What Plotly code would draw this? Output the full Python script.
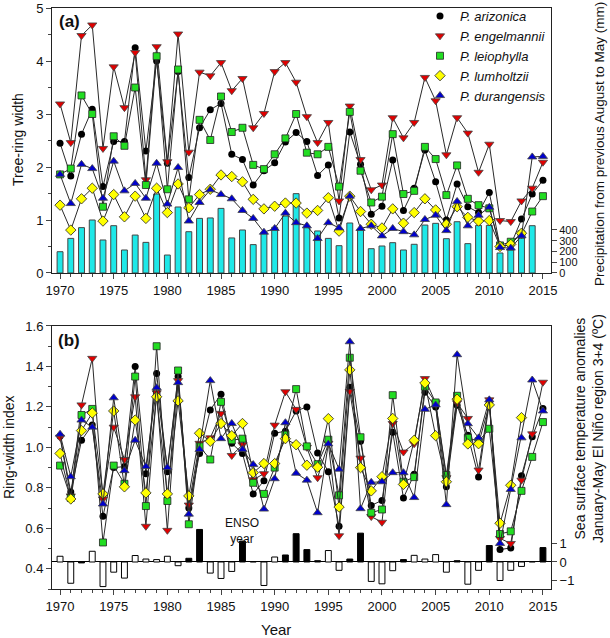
import plotly.graph_objects as go

years = list(range(1970, 2016))

# (a) tree-ring width
arizonica_w = [2.45, 1.83, 2.62, 3.09, 1.63, 2.48, 2.48, 4.25, 2.30, 4.00, 2.07, 3.80, 1.80, 2.74, 3.08, 3.20,
               2.24, 2.14, 1.66, 1.93, 2.08, 2.47, 2.65, 2.48, 1.84, 2.04, 1.04, 2.66, 2.05, 1.11, 1.26, 2.13,
               1.18, 1.60, 2.32, 1.72, 1.00, 1.68, 1.25, 1.14, 1.52, 0.50, 0.53, 1.02, 1.49, 1.75]
engelmannii_w = [3.19, 2.46, 4.48, 4.68, 2.35, 3.89, 3.12, 4.16, 1.76, 4.27, 2.10, 4.51, 2.28, 3.79, 3.72, 3.97,
                 3.44, 3.67, 2.74, 3.01, 3.80, 3.97, 3.60, 2.95, 2.46, 2.84, 1.36, 3.15, 2.14, 1.57, 1.66, 2.93,
                 2.55, 2.84, 3.69, 3.25, 2.23, 2.93, 2.64, 1.90, 2.43, 0.99, 0.97, 1.36, 1.60, 2.09]
leiophylla_w = [1.86, 1.97, 3.35, 3.00, 1.25, 2.58, 2.40, 3.50, 1.66, 4.09, 1.58, 3.84, 1.39, 2.89, 2.51, 3.33,
                2.66, 2.74, 2.04, 1.96, 2.24, 2.54, 3.00, 2.27, 2.24, 2.38, 1.63, 3.04, 1.93, 1.33, 1.44, 2.62,
                1.49, 1.55, 2.38, 2.15, 1.47, 2.03, 1.40, 1.28, 1.22, 0.52, 0.59, 0.73, 1.16, 1.45]
lumholtzii_w = [1.28, 0.81, 1.40, 1.60, 0.98, 1.48, 1.06, 1.45, 1.03, 1.60, 1.14, 1.68, 1.23, 1.48, 1.58, 1.85,
                1.82, 1.72, 1.39, 1.21, 1.26, 1.32, 1.32, 1.13, 1.18, 1.42, 0.79, 1.45, 1.16, 0.92, 0.85, 1.21,
                0.94, 1.14, 1.40, 1.19, 0.92, 1.25, 1.05, 0.98, 0.99, 0.50, 0.54, 0.75, None, None]
durangensis_w = [1.86, 1.31, 2.05, 1.97, 1.41, 2.11, 1.55, 1.69, 1.41, 2.07, 1.30, 1.99, 0.98, 1.33, 1.57, 1.48,
                 1.40, 1.18, 1.03, 0.77, 0.84, 1.13, 0.95, 0.89, 0.65, 0.95, 0.85, 1.45, 0.84, 0.89, 0.70, 0.84,
                 0.78, 0.72, 1.01, 1.09, 0.80, 1.35, 0.89, 1.09, 1.24, 0.48, 0.47, 0.70, 2.19, 2.20]
precip_years = list(range(1970, 2015))
precip = [198, 322, 422, 493, 307, 440, 214, 353, 285, 735, 167, 614, 384, 508, 512, 601, 326, 400, 264, 378,
          425, 530, 738, 425, 391, 322, 254, 465, 400, 226, 251, 282, 214, 267, 446, 462, 319, 477, 273, 443,
          443, 186, 214, 326, 440]

# (b) ring-width index
arizonica_i = [1.055, 0.78, 1.035, 1.11, 0.66, 0.90, 0.905, 1.40, 0.87, 1.365, 0.88, 1.35, 0.70, 0.97, 1.185,
               1.263, 1.02, 0.97, 0.77, 0.835, 1.07, 1.08, 1.18, 1.20, 0.972, 0.88, 0.61, 1.297, 1.03, 0.713,
               0.738, 1.075, 0.75, 0.867, 1.272, 1.20, 0.805, 1.208, 1.06, 0.853, 1.22, 0.495, 0.503, 0.86,
               1.052, 1.192]
engelmannii_i = [1.05, 0.76, 1.21, 1.44, 0.745, 1.10, 0.94, 1.25, 0.61, 1.27, 0.59, 1.33, 0.715, 1.02, 1.047,
                 1.168, 0.96, 1.013, 0.84, 0.87, 1.11, 1.275, 1.188, 1.0, 0.85, 1.02, 0.563, 1.277, 0.947, 0.658,
                 0.63, 1.118, 0.977, 1.018, 1.34, 1.22, 0.85, 1.22, 1.143, 0.888, 1.235, 0.55, 0.525, 0.838,
                 1.067, 1.322]
leiophylla_i = [0.91, 0.75, 1.16, 1.19, 0.53, 0.91, 0.82, 1.35, 0.71, 1.50, 0.735, 1.38, 0.62, 1.005, 0.94,
                1.225, 1.035, 1.043, 0.825, 0.77, 0.90, 1.063, 1.288, 1.005, 0.917, 1.038, 0.763, 1.443, 1.05,
                0.677, 0.693, 1.258, 0.83, 0.853, 1.30, 1.222, 0.863, 1.255, 1.047, 1.03, 1.092, 0.572, 0.585,
                0.785, 0.953, 1.125]
lumholtzii_i = [0.97, 0.745, 1.083, 1.17, 0.77, 1.18, 0.805, 1.135, 0.775, 1.25, 0.77, 1.23, 0.76, 1.07, 1.03,
                1.118, 1.058, 1.118, 0.875, 0.92, 0.92, 1.043, 1.013, 0.912, 0.902, 1.142, 0.705, 1.383, 0.90,
                0.785, 0.855, 1.143, 0.817, 1.035, 1.318, 1.058, 0.83, 1.238, 1.017, 1.018, 1.21, 0.625, 0.813,
                1.147, None, None]
durangensis_i = [1.065, 0.855, 1.135, 1.10, 0.72, 1.245, 0.885, 1.035, 0.905, 1.295, 0.90, 1.32, 0.67, 0.99,
                 1.33, 1.043, 1.118, 0.99, 0.915, 0.695, 0.845, 1.122, 0.872, 0.838, 0.677, 1.017, 0.892, 1.522,
                 0.697, 0.827, 0.83, 0.875, 0.875, 0.752, 1.188, 1.21, 0.717, 1.458, 1.117, 1.047, 1.235, 0.525,
                 0.792, 1.047, 1.333, 1.18]
sst = [0.31, -1.15, -0.05, 0.58, -1.33, -0.55, -0.87, 0.35, 0.16, 0.13, 0.31, -0.20, 0.20, 1.76, -0.60, -0.89,
       -0.51, 1.13, 0.02, -1.27, 0.27, 0.38, 1.53, 0.67, 0.07, 0.62, -0.45, 0.16, 1.56, -1.05, -1.18, -0.47,
       0.13, 0.36, 0.16, 0.40, -0.55, 0.07, -1.20, -0.45, 0.89, -1.00, -0.45, -0.24, 0.02, 0.78]
enso_years = [1972, 1982, 1983, 1987, 1988, 1991, 1992, 1993, 1994, 1997, 1998, 2002, 2007, 2010, 2015]

FONT = "Liberation Sans, Arial, sans-serif"
LINE = '#2a2a2a'
TICK = 13
TITLE = 14

SPECIES = [
    ('P. arizonica', arizonica_w, arizonica_i, dict(symbol='circle', size=7, color='black', line=dict(width=0))),
    ('P. engelmannii', engelmannii_w, engelmannii_i, dict(symbol='triangle-down', size=8, color='#e00000', line=dict(width=0.8, color='#444'))),
    ('P. leiophylla', leiophylla_w, leiophylla_i, dict(symbol='square', size=7, color='#22dd22', line=dict(width=0.8, color='#222'))),
    ('P. lumholtzii', lumholtzii_w, lumholtzii_i, dict(symbol='diamond', size=8, color='#ffff00', line=dict(width=0.8, color='#222'))),
    ('P. durangensis', durangensis_w, durangensis_i, dict(symbol='triangle-up', size=8, color='#0000cc', line=dict(width=0.8, color='#444'))),
]

fig = go.Figure()

# precipitation bars (base axis of top panel, so they sit behind the lines)
fig.add_trace(go.Bar(
    x=precip_years, y=precip, xaxis='x', yaxis='y', width=0.55,
    marker=dict(color='#1ee8e8', line=dict(color='#444', width=1)),
    showlegend=False
))

# SST anomaly bars: black for ENSO years
fig.add_trace(go.Bar(
    x=years, y=sst, xaxis='x2', yaxis='y3', width=0.55,
    marker=dict(color=['black' if y in enso_years else 'white' for y in years], line=dict(color='black', width=1)),
    showlegend=False
))

for name, w, idx, mk in SPECIES:
    fig.add_trace(go.Scatter(x=years, y=w, xaxis='x', yaxis='y2', mode='lines+markers',
                             line=dict(color=LINE, width=1), marker=mk, showlegend=False))
    fig.add_trace(go.Scatter(x=years, y=idx, xaxis='x2', yaxis='y4', mode='lines+markers',
                             line=dict(color=LINE, width=1), marker=mk, showlegend=False))
    # legend entry with marker only
    fig.add_trace(go.Scatter(x=[None], y=[None], xaxis='x', yaxis='y2', mode='markers',
                             marker=mk, name=f"<i>{name}</i>", showlegend=True))

xcommon = dict(range=[1969.25, 2015.75], tick0=1970, dtick=5, ticks='outside', ticklen=5,
               minor=dict(ticks='outside', dtick=1, ticklen=3, tick0=1970),
               showline=True, mirror=True, linecolor='#222', linewidth=1, showgrid=False, zeroline=False,
               automargin=False, tickfont=dict(size=TICK, color='#111'))
ycommon = dict(ticks='outside', ticklen=5, showgrid=False, zeroline=False, automargin=False,
               tickfont=dict(size=TICK, color='#111'))


def px_x(px):
    return (px - 52) / 499


def px_y(px):
    return (589 - px) / 581


def label(text, x, y, size=TITLE, angle=0, **kw):
    return dict(text=text, x=px_x(x), y=px_y(y), xref='paper', yref='paper', textangle=angle,
                xanchor=kw.pop('xanchor', 'center'), yanchor='middle', showarrow=False,
                font=dict(size=size), **kw)


fig.update_layout(
    width=610, height=638,
    margin=dict(l=52, r=59, t=8, b=49, autoexpand=False),
    paper_bgcolor='white', plot_bgcolor='white',
    font=dict(family=FONT, color='#111'),
    barmode='overlay',
    xaxis=dict(domain=[0, 1], anchor='y', **xcommon),
    yaxis=dict(domain=[0.5439, 1], anchor='x', side='right', range=[0, 2465],
               tickvals=[0, 100, 200, 300, 400], showline=True, mirror=True, linecolor='#222',
               ticks='outside', ticklen=5, showgrid=False, zeroline=False, automargin=False,
               tickfont=dict(size=11, color='#111')),
    yaxis2=dict(overlaying='y', anchor='x', side='left', range=[0, 5], dtick=1,
                minor=dict(ticks='outside', dtick=0.5, ticklen=3), **ycommon),
    xaxis2=dict(domain=[0, 1], anchor='y3', **xcommon),
    yaxis3=dict(domain=[0, 0.4527], anchor='x2', side='right', range=[-1.46, 12.76],
                tickvals=[-1, 0, 1], showline=True, mirror=True, linecolor='#222',
                ticks='outside', ticklen=5, showgrid=False, zeroline=True, zerolinecolor='black',
                zerolinewidth=1.2, automargin=False, tickfont=dict(size=TICK, color='#111')),
    yaxis4=dict(overlaying='y3', anchor='x2', side='left', range=[0.3, 1.6], tick0=0.4, dtick=0.2,
                tickformat='.1f', minor=dict(ticks='outside', dtick=0.1, ticklen=3, tick0=0.3), **ycommon),
    legend=dict(x=px_x(420), y=px_y(1), xanchor='left', yanchor='top', bgcolor='rgba(0,0,0,0)',
                font=dict(size=13, color='#111'), tracegroupgap=0, itemwidth=30),
    annotations=[
        label('<b>(a)</b>', 57, 22, size=17, xanchor='left'),
        label('<b>(b)</b>', 56, 340, size=17, xanchor='left'),
        label('Tree-ring width', 18, 140, angle=-90),
        label('Ring-width index', 9, 447, angle=-90),
        label('Precipitation from previous August to May (mm)', 599, 144, size=13.5, angle=-90),
        label('Sea surface temperature anomalies<br>January-May El Niño region 3+4 (ºC)', 589, 429, angle=-90),
        label('Year', 276, 629, size=TITLE + 1),
        dict(text='ENSO<br>year', x=1987, y=0.585, xref='x2', yref='y4', showarrow=False,
             font=dict(size=12)),
    ],
)

fig.write_html("out.html", config={'displayModeBar': False},
               post_script="document.body.style.margin='0px';")
